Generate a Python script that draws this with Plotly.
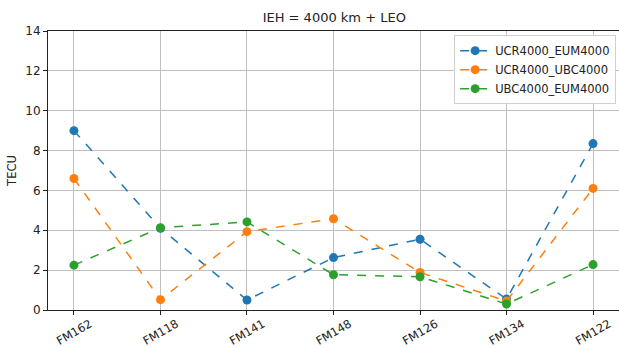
import plotly.graph_objects as go

satellites = ["FM162", "FM118", "FM141", "FM148", "FM126", "FM134", "FM122"]
ucr_eum = [9.0, 4.1, 0.5, 2.63, 3.55, 0.55, 8.35]
ucr_ubc = [6.6, 0.52, 3.93, 4.58, 1.88, 0.45, 6.1]
ubc_eum = [2.25, 4.13, 4.42, 1.77, 1.67, 0.3, 2.28]
y_ticks = [0, 2, 4, 6, 8, 10, 12, 14]

series = [
    ("UCR4000_EUM4000", ucr_eum, "#1f77b4"),
    ("UCR4000_UBC4000", ucr_ubc, "#ff7f0e"),
    ("UBC4000_EUM4000", ubc_eum, "#2ca02c"),
]

fig = go.Figure()
for name, vals, color in series:
    fig.add_trace(go.Scatter(
        x=list(range(len(satellites))), y=vals, name=name,
        mode="lines+markers",
        line=dict(color=color, width=1.5, dash="dash"),
        marker=dict(color=color, size=9),
    ))

font = "DejaVu Sans"
fig.update_layout(
    width=619, height=348,
    margin=dict(l=48, r=0, t=31, b=38),
    paper_bgcolor="white", plot_bgcolor="white",
    font=dict(family=font, size=11, color="#222"),
    title=dict(text="IEH = 4000 km + LEO", x=0.54, xanchor="center",
               y=0.95, yanchor="middle", font=dict(size=13, color="#222")),
    legend=dict(x=0.995, y=0.985, xanchor="right", yanchor="top",
                bgcolor="rgba(255,255,255,0.9)", bordercolor="#d0d0d0",
                borderwidth=1, font=dict(size=11.5), tracegroupgap=0),
    showlegend=True,
)
fig.update_xaxes(
    range=[-0.3, 6.3], tickmode="array",
    tickvals=list(range(len(satellites))), ticktext=satellites,
    tickangle=-30, ticks="outside", ticklen=4, tickcolor="#222",
    ticklabelshift=16, ticklabelstandoff=-2, automargin=False,
    showgrid=True, gridcolor="#c0c0c0", gridwidth=1,
    showline=True, linecolor="#222", linewidth=1, mirror=True,
    zeroline=False, tickfont=dict(size=11.5),
)
fig.update_yaxes(
    range=[0, 14], tickmode="array", tickvals=y_ticks,
    ticks="outside", ticklen=4, tickcolor="#222",
    showgrid=True, gridcolor="#c0c0c0", gridwidth=1,
    showline=True, linecolor="#222", linewidth=1, mirror=True,
    zeroline=False, tickfont=dict(size=12), automargin=False,
    title=dict(text="TECU", font=dict(size=11.5), standoff=6),
)

fig.write_html("out.html")
